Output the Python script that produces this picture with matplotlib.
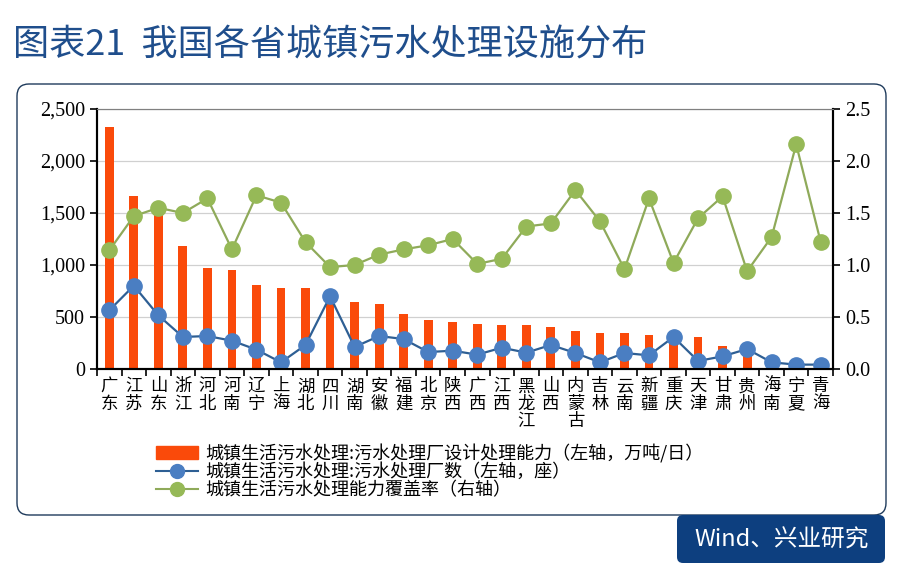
import numpy as np
import matplotlib.pyplot as plt
from matplotlib.patches import FancyBboxPatch, Rectangle
from matplotlib.lines import Line2D
from matplotlib.transforms import IdentityTransform

plt.rcParams['font.family'] = ['Noto Sans CJK SC', 'DejaVu Sans']

provinces = ['广东', '江苏', '山东', '浙江', '河北', '河南', '辽宁', '上海', '湖北', '四川',
             '湖南', '安徽', '福建', '北京', '陕西', '广西', '江西', '黑龙江', '山西', '内蒙古',
             '吉林', '云南', '新疆', '重庆', '天津', '甘肃', '贵州', '海南', '宁夏', '青海']
capacity = [2330, 1660, 1560, 1180, 975, 952, 810, 778, 775, 680,
            647, 628, 526, 471, 452, 436, 426, 426, 401, 362,
            343, 343, 324, 310, 304, 224, 190, 45, 60, 30]
plants = [564, 801, 516, 308, 317, 272, 186, 64, 231, 699,
          212, 317, 288, 163, 176, 138, 205, 157, 231, 154,
          64, 154, 131, 308, 77, 122, 192, 64, 42, 42]
coverage = [1.14, 1.47, 1.55, 1.50, 1.64, 1.15, 1.67, 1.60, 1.22, 0.98,
            1.00, 1.10, 1.15, 1.19, 1.25, 1.01, 1.06, 1.37, 1.40, 1.72,
            1.42, 0.96, 1.64, 1.02, 1.45, 1.66, 0.94, 1.27, 2.16, 1.22]

lbl_bar = '城镇生活污水处理:污水处理厂设计处理能力（左轴，万吨/日）'
lbl_plant = '城镇生活污水处理:污水处理厂数（左轴，座）'
lbl_cov = '城镇生活污水处理能力覆盖率（右轴）'

W, H = 905, 568
fig = plt.figure(figsize=(W / 100, H / 100), dpi=100)
fig.patch.set_facecolor('white')

# rounded frame
frame = FancyBboxPatch((17, H - 515), 869, 431, boxstyle='round,pad=0,rounding_size=12',
                       transform=IdentityTransform(), facecolor='none',
                       edgecolor='#1F3B5C', linewidth=1.0)
fig.patches.append(frame)

# title
fig.text(13 / W, 1 - 46 / H, '图表21  我国各省城镇污水处理设施分布', fontsize=26,
         color='#1F4E8C', fontweight='medium', va='center', ha='left')

# source box
src = FancyBboxPatch((677, H - 563), 208, 48, boxstyle='round,pad=0,rounding_size=6',
                     transform=IdentityTransform(), facecolor='#0D3F7F', edgecolor='none')
fig.patches.append(src)
fig.text(782 / W, 1 - 540 / H, 'Wind、兴业研究', fontsize=17, color='white',
         ha='center', va='center')

ax = fig.add_axes([97 / W, 1 - 369 / H, (833 - 97) / W, (369 - 109) / H])
ax2 = ax.twinx()
n = len(provinces)
x = np.arange(n)

ax.bar(x, capacity, width=0.36, color='#FA4A0A', zorder=2)
ax.plot(x, plants, color='#2E5F94', marker='o', markersize=11, linewidth=1.6,
        markerfacecolor='#4A7EC2', markeredgecolor='#4A7EC2', zorder=3)
ax2.plot(x, coverage, color='#8FAA5A', marker='o', markersize=11, linewidth=1.6,
         markerfacecolor='#96B957', markeredgecolor='#96B957', zorder=3)

ax.set_xlim(-0.5, n - 0.5)
ax.set_ylim(0, 2500)
ax2.set_ylim(0, 2.5)
ax.set_yticks(np.arange(0, 2501, 500))
ax.set_yticklabels([f'{v:,}' for v in range(0, 2501, 500)], family='Liberation Serif', fontsize=14.5)
ax2.set_yticks(np.arange(0, 2.51, 0.5))
ax2.set_yticklabels([f'{v:.1f}' for v in np.arange(0, 2.51, 0.5)], family='Liberation Serif', fontsize=14.5)
ax.yaxis.grid(True, color='#D0D0D0', linewidth=0.9, zorder=0)
ax.set_axisbelow(True)

ax.set_xticks(x)
ax.set_xticklabels(['\n'.join(p) for p in provinces], fontsize=12.5, va='top', linespacing=0.95)
ax.tick_params(axis='x', length=0, pad=6)
ax.set_xticks(np.arange(-0.5, n, 1), minor=True)
ax.tick_params(axis='x', which='minor', length=5, direction='out', width=1.2)
ax.tick_params(axis='y', length=5, direction='out', width=1.2)
ax2.tick_params(axis='y', length=5, direction='out', width=1.2)

for a in (ax, ax2):
    a.spines['top'].set_color('#808080')
    a.spines['left'].set_linewidth(1.5)
    a.spines['right'].set_linewidth(1.5)
    a.spines['bottom'].set_linewidth(1.5)

handles = [Rectangle((0, 0), 1, 1, color='#FA4A0A'),
           Line2D([], [], color='#2E5F94', marker='o', markersize=10,
                  markerfacecolor='#4A7EC2', markeredgecolor='#4A7EC2'),
           Line2D([], [], color='#8FAA5A', marker='o', markersize=10,
                  markerfacecolor='#96B957', markeredgecolor='#96B957')]
fig.legend(handles, [lbl_bar, lbl_plant, lbl_cov], loc='upper left',
           bbox_to_anchor=(147 / W, 1 - 435 / H), frameon=False, fontsize=13,
           handlelength=2.3, handleheight=0.7, labelspacing=0.0, borderpad=0, handletextpad=0.4)

fig.savefig('out.png', dpi=100)
